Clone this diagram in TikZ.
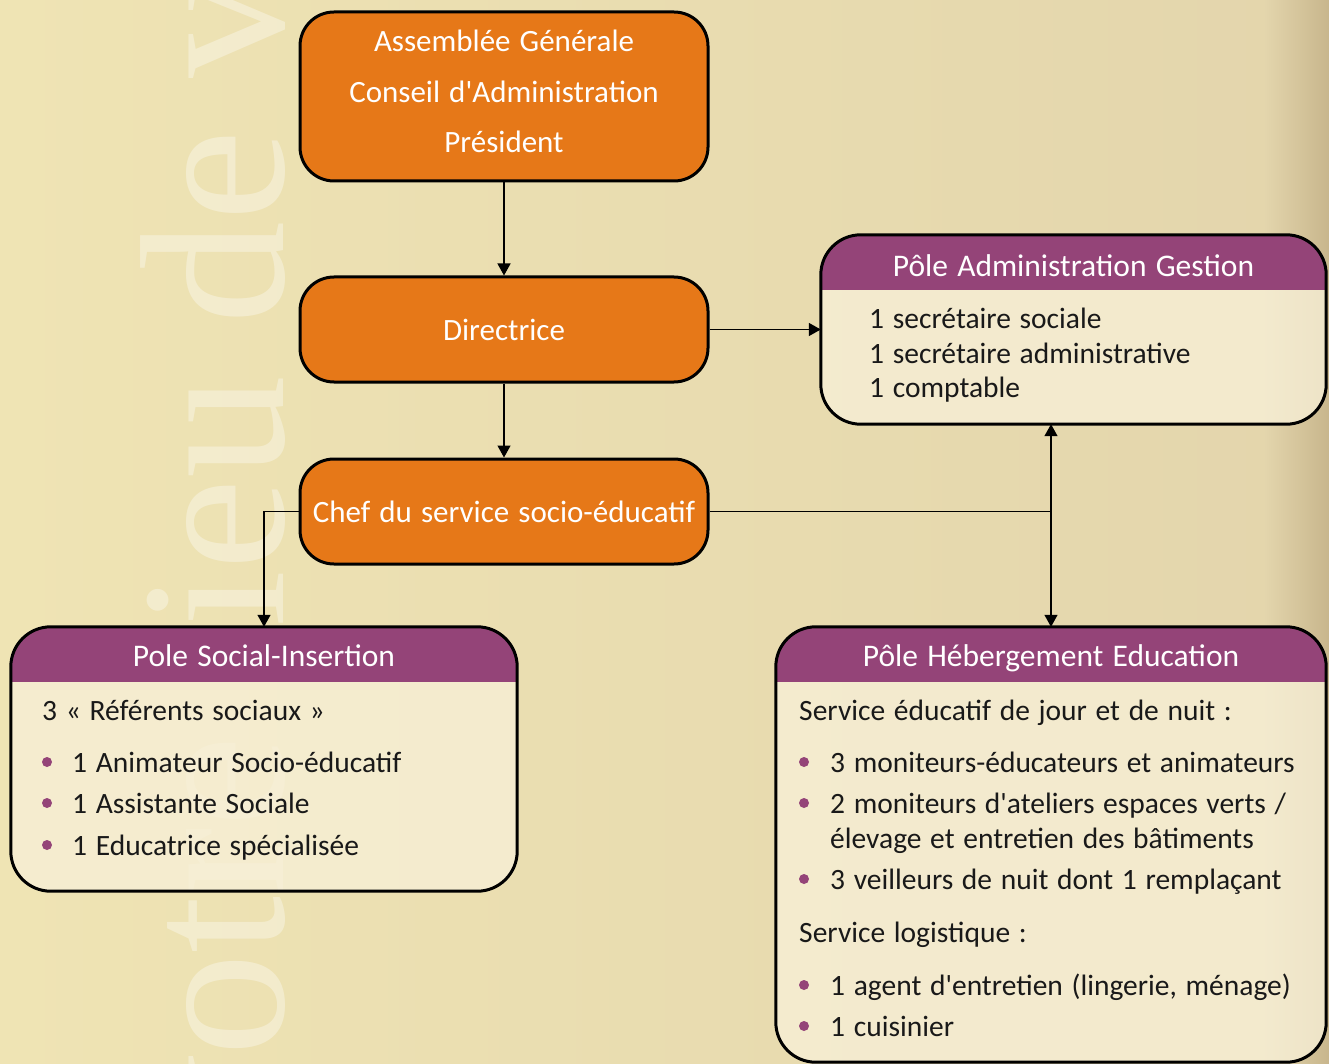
\documentclass[tikz,border=0pt]{standalone}
\usepackage{fontspec}
\setmainfont{Carlito}
\newfontfamily\plainfont{Carlito}
\newfontfamily\bodyfont{Carlito}[WordSpace=1.3]
\newfontfamily\wmfont{Liberation Serif}
\usetikzlibrary{arrows.meta,calc}
\definecolor{cOrange}{RGB}{230,120,24}
\definecolor{cPurple}{RGB}{148,68,120}
\definecolor{cBody}{RGB}{247,239,214}
\definecolor{bgLeft}{RGB}{239,228,180}
\definecolor{bgRight}{RGB}{227,213,172}
\definecolor{bgEdge}{RGB}{200,182,140}
\tikzset{
  orangebox/.style={draw=black, line width=3pt, fill=cOrange, rounded corners=34pt,
    minimum width=408pt, text=white, font=\plainfont\fontsize{31}{50.5}\selectfont, align=center, inner sep=0pt},
  polebox/.style={fill=cBody, fill opacity=0.8, text opacity=1, rounded corners=40pt, inner sep=0pt},
  poleborder/.style={draw=black, line width=3pt, rounded corners=40pt},
  headtext/.style={text=white, font=\plainfont\fontsize{31.5}{33}\selectfont, anchor=base, inner sep=0pt},
  bodytext/.style={text=black!90, font=\bodyfont\fontsize{29.5}{35}\selectfont, anchor=base west, inner sep=0pt, align=left},
  bul/.style={fill=cPurple},
  arr/.style={line width=1.3pt, -{Triangle[width=13pt,length=12pt]}},
  conn/.style={line width=1.3pt}
}
\begin{document}
\begin{tikzpicture}[x=1pt,y=-1pt]
\useasboundingbox (0,0) rectangle (1329,1064);
% background
\shade[left color=bgLeft, right color=bgRight] (0,0) rectangle (1329,1064);
\shade[left color=bgRight, right color=bgEdge] (1265,0) rectangle (1329,1064);
% watermark
\begin{scope}
\clip (0,0) rectangle (1329,1064);
\node[rotate=90, anchor=base west, inner sep=0pt, text=white, text opacity=0.35,
  font=\wmfont\fontsize{206}{206}\selectfont] (wm) at (283,1160) {votre lieu de vie};
\end{scope}

% orange boxes
\node[orangebox, minimum height=169pt, text depth=10pt] (top) at (504,96.5)
  {Assemblée Générale\\Conseil d'Administration\\Président};
\node[orangebox, minimum height=105pt, text height=22pt, text depth=0pt] (dir) at (504,329.5) {Directrice};
\node[orangebox, minimum height=105pt, text height=22pt, text depth=0pt] (chef) at (504,511.5) {Chef du service socio-éducatif};

% pole boxes
\node[polebox, minimum width=505pt, minimum height=189pt] (adm) at (1073.5,329.5) {};
\node[polebox, minimum width=506pt, minimum height=264pt] (soc) at (264,759) {};
\node[polebox, minimum width=550pt, minimum height=435pt] (heb) at (1051,844.5) {};
\foreach \b in {adm,soc,heb}{
  \begin{scope}
    \clip[rounded corners=40pt] (\b.north west) rectangle (\b.south east);
    \fill[cPurple] (\b.north west) rectangle ($(\b.north east)+(0,55)$);
  \end{scope}
  \draw[poleborder] (\b.north west) rectangle (\b.south east);
}

% headers
\node[headtext] (admh) at ($(adm.north)+(0,42)$) {Pôle Administration Gestion};
\node[headtext] (soch) at ($(soc.north)+(0,40)$) {Pole Social-Insertion};
\node[headtext] (hebh) at ($(heb.north)+(0,40)$) {Pôle Hébergement Education};

% admin body
\node[bodytext] (adm1) at (869,328) {1 secrétaire sociale};
\node[bodytext] (adm2) at (869,363) {1 secrétaire administrative};
\node[bodytext] (adm3) at (869,397) {1 comptable};

% social body
\node[bodytext] (soc0) at (42,720) {3 « Référents sociaux »};
\node[bodytext] (soc1) at (72,772) {1 Animateur Socio-éducatif};
\node[bodytext] (soc2) at (72,813) {1 Assistante Sociale};
\node[bodytext] (soc3) at (72,855) {1 Educatrice spécialisée};
\foreach \y in {762,803,845} \fill[bul] (47,\y) circle (5);

% hebergement body
\node[bodytext] (heb0) at (799,720) {Service éducatif de jour et de nuit :};
\node[bodytext] (heb1) at (830,772) {3 moniteurs-éducateurs et animateurs};
\node[bodytext] (heb2) at (830,848) {2 moniteurs d'ateliers espaces verts /\\élevage et entretien des bâtiments};
\node[bodytext] (heb3) at (830,889) {3 veilleurs de nuit dont 1 remplaçant};
\node[bodytext] (heb4) at (799,942) {Service logistique :};
\node[bodytext] (heb5) at (830,995) {1 agent d'entretien (lingerie, ménage)};
\node[bodytext] (heb6) at (830,1036) {1 cuisinier};
\foreach \y in {762,803,879,985,1026} \fill[bul] (804,\y) circle (5);

% connectors
\draw[arr] (top.south) -- (dir.north);
\draw[arr] (dir.south) -- (chef.north);
\draw[arr] (dir.east) -- (adm.west);
\draw[arr] (chef.west) -| (soc.north);
\coordinate (j) at (chef.east -| heb.north);
\draw[conn] (chef.east) -- (j);
\draw[arr] (j) -- (heb.north);
\draw[arr] (j) -- (j |- adm.south);
\end{tikzpicture}
\end{document}
